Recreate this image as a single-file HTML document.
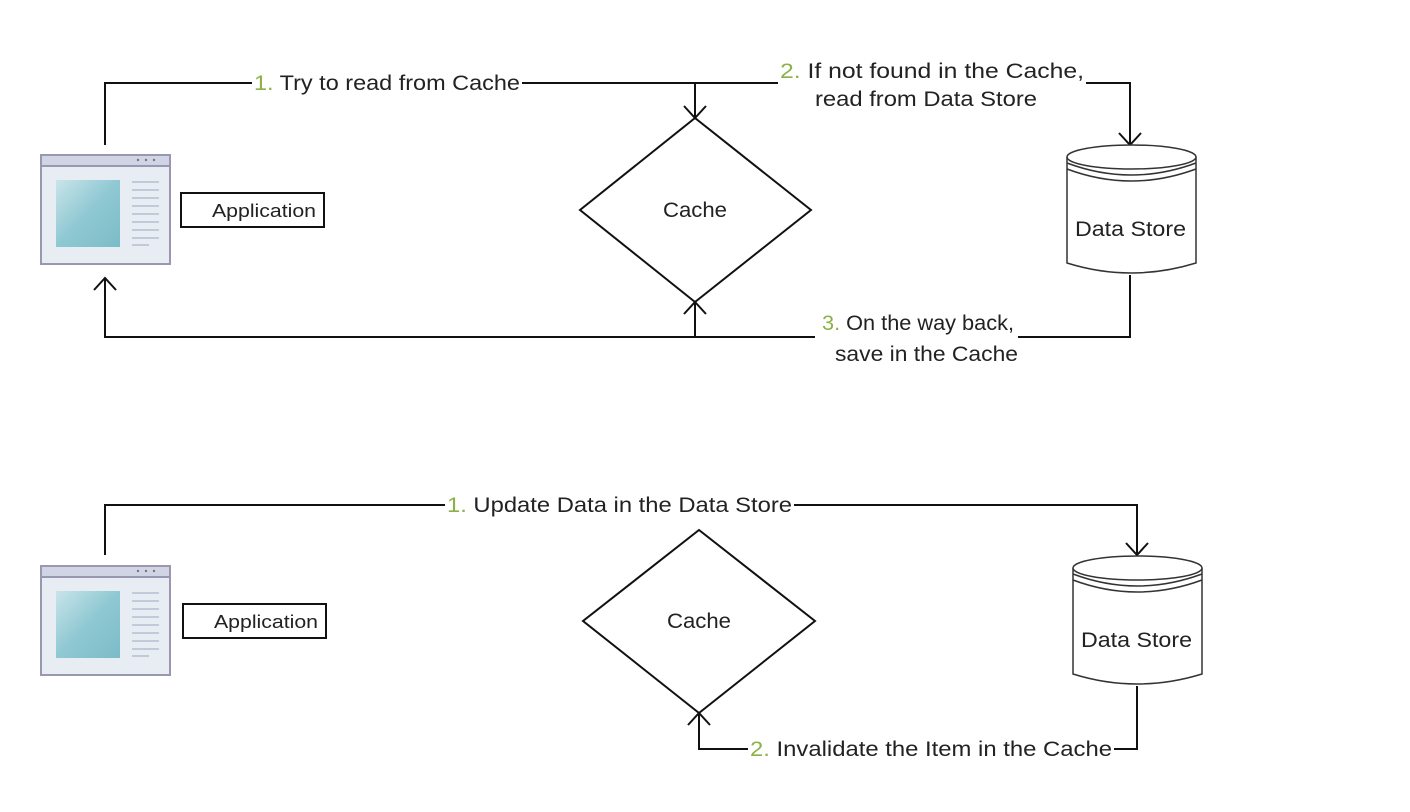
<!DOCTYPE html>
<html><head><meta charset="utf-8"><style>
html,body{margin:0;padding:0;background:#fff;}
svg{display:block;}
text{font-family:"Liberation Sans",sans-serif;font-size:21px;fill:#222;}
.g{fill:#8db048;}
</style></head><body>
<svg width="1410" height="812" viewBox="0 0 1410 812" xmlns="http://www.w3.org/2000/svg">
<defs>
<linearGradient id="bl" x1="0" y1="0" x2="1" y2="1"><stop offset="0" stop-color="#c9e4ea"/><stop offset="0.5" stop-color="#8fc8d2"/><stop offset="1" stop-color="#7bbcc8"/></linearGradient>
<g id="app">
  <rect x="0" y="0" width="129" height="109" fill="#e8edf4" stroke="#9a98b0" stroke-width="2"/>
  <rect x="1" y="1" width="127" height="9" fill="#d0d4e4"/>
  <line x1="1" y1="11" x2="128" y2="11" stroke="#9a98b0" stroke-width="2"/>
  <circle cx="97" cy="5" r="1.2" fill="#777"/><circle cx="105" cy="5" r="1.2" fill="#777"/><circle cx="113" cy="5" r="1.2" fill="#777"/>
  <rect x="15" y="25" width="64" height="67" fill="url(#bl)"/>
  <g stroke="#b5bfd0" stroke-width="1.5">
    <line x1="91" y1="27" x2="118" y2="27"/><line x1="91" y1="35" x2="118" y2="35"/><line x1="91" y1="43" x2="118" y2="43"/><line x1="91" y1="51" x2="118" y2="51"/><line x1="91" y1="59" x2="118" y2="59"/><line x1="91" y1="67" x2="118" y2="67"/><line x1="91" y1="75" x2="118" y2="75"/><line x1="91" y1="83" x2="118" y2="83"/><line x1="91" y1="90" x2="108" y2="90"/>
  </g>
</g>
<g id="cyl">
  <path d="M0 12 L0 118 Q64 138 129 118 L129 12" fill="#fff" stroke="#333" stroke-width="1.5"/>
  <ellipse cx="64.5" cy="12" rx="64.5" ry="12" fill="#fff" stroke="#333" stroke-width="1.5"/>
  <path d="M0 18 Q64 42 129 18" fill="none" stroke="#333" stroke-width="1.5"/>
  <path d="M0 24 Q64 48 129 24" fill="none" stroke="#333" stroke-width="1.5"/>
</g>
</defs>

<g stroke="#111" stroke-width="2" fill="none">
  <polyline points="105,145 105,83 252,83"/>
  <polyline points="522,83 778,83"/>
  <polyline points="1086,83 1130,83 1130,145"/>
  <line x1="695" y1="83" x2="695" y2="118"/>
  <polyline points="684,106 695,118 706,106"/>
  <polyline points="1119,133 1130,145 1141,133"/>
  <polygon points="695,118 811,210 695,302 580,210"/>
  <polyline points="1130,275 1130,337 1018,337"/>
  <polyline points="815,337 105,337 105,278"/>
  <polyline points="94,290 105,278 116,290"/>
  <line x1="695" y1="337" x2="695" y2="302"/>
  <polyline points="684,314 695,302 706,314"/>
  <rect x="181" y="193" width="143" height="34" stroke-width="2"/>
  <polyline points="105,555 105,505 445,505"/>
  <polyline points="794,505 1137,505 1137,555"/>
  <polyline points="1126,543 1137,555 1148,543"/>
  <polygon points="699,530 815,621 699,713 583,621"/>
  <polyline points="1137,686 1137,749 1114,749"/>
  <polyline points="748,749 699,749 699,713"/>
  <polyline points="688,725 699,713 710,725"/>
  <rect x="183" y="604" width="143" height="34" stroke-width="2"/>
</g>

<use href="#app" x="41" y="155"/>
<use href="#app" x="41" y="566"/>
<use href="#cyl" x="1067" y="145"/>
<use href="#cyl" x="1073" y="556"/>

<text x="212" y="217" style="font-size:18px" textLength="104" lengthAdjust="spacingAndGlyphs">Application</text>
<text x="214" y="628" style="font-size:18px" textLength="104" lengthAdjust="spacingAndGlyphs">Application</text>
<text x="663" y="217" textLength="64" lengthAdjust="spacingAndGlyphs">Cache</text>
<text x="667" y="628" textLength="64" lengthAdjust="spacingAndGlyphs">Cache</text>
<text x="1075" y="236" textLength="111" lengthAdjust="spacingAndGlyphs">Data Store</text>
<text x="1081" y="647" textLength="111" lengthAdjust="spacingAndGlyphs">Data Store</text>

<text x="254" y="90" textLength="266" lengthAdjust="spacingAndGlyphs"><tspan class="g">1.</tspan> Try to read from Cache</text>
<text x="780" y="78" textLength="304" lengthAdjust="spacingAndGlyphs"><tspan class="g">2.</tspan> If not found in the Cache,</text>
<text x="815" y="106" textLength="222" lengthAdjust="spacingAndGlyphs">read from Data Store</text>
<text x="822" y="330" textLength="192" lengthAdjust="spacingAndGlyphs"><tspan class="g">3.</tspan> On the way back,</text>
<text x="835" y="361" textLength="183" lengthAdjust="spacingAndGlyphs">save in the Cache</text>
<text x="447" y="512" textLength="345" lengthAdjust="spacingAndGlyphs"><tspan class="g">1.</tspan> Update Data in the Data Store</text>
<text x="750" y="756" textLength="362" lengthAdjust="spacingAndGlyphs"><tspan class="g">2.</tspan> Invalidate the Item in the Cache</text>
</svg>
</body></html>
